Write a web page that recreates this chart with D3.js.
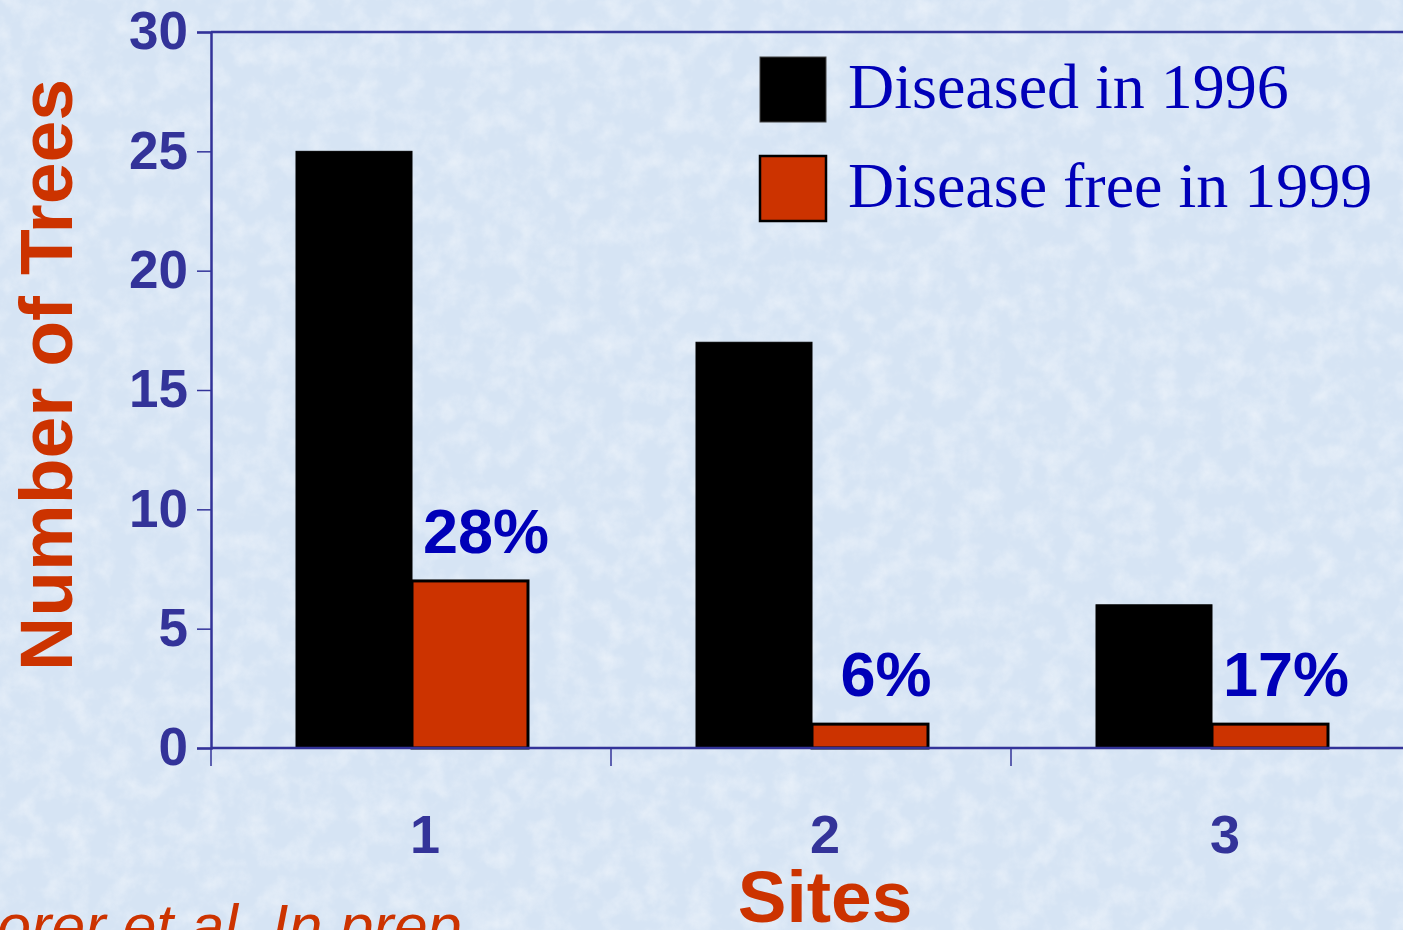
<!DOCTYPE html>
<html>
<head>
<meta charset="utf-8">
<script src="https://cdn.jsdelivr.net/npm/d3@7"></script>
<style>
  html, body { margin: 0; padding: 0; overflow: hidden; background: #dae7f5; }
  svg { display: block; }
</style>
</head>
<body>
<div id="chart"></div>
<script>
const sites = ["1", "2", "3"];
const seriesNames = ["Diseased in 1996", "Disease free in 1999"];
const diseased1996 = [25, 17, 6];
const diseaseFree1999 = [7, 1, 1];
const percentLabels = ["28%", "6%", "17%"];
const yTicks = [0, 5, 10, 15, 20, 25, 30];

const width = 1403;
const height = 930;
const margin = { top: 32, left: 211, bottom: 182 };

const axisColor = "#333399";
const redColor = "#cc3300";
const labelBlue = "#0000b8";

const svg = d3
  .select("#chart")
  .append("svg")
  .attr("width", width)
  .attr("height", height);

// textured paper background
const defs = svg.append("defs");
const filter = defs.append("filter").attr("id", "paper").attr("x", 0).attr("y", 0).attr("width", "100%").attr("height", "100%");
filter
  .append("feTurbulence")
  .attr("type", "fractalNoise")
  .attr("baseFrequency", 0.045)
  .attr("numOctaves", 4)
  .attr("seed", 7);
filter
  .append("feColorMatrix")
  .attr("type", "matrix")
  .attr("values", "0 0 0 0 1  0 0 0 0 1  0 0 0 0 1  0 0 0 1.4 -0.55");

svg.append("rect").attr("width", width).attr("height", height).attr("fill", "#d6e4f4");
svg.append("rect").attr("width", width).attr("height", height).attr("filter", "url(#paper)").attr("opacity", 0.55);

const y = d3.scaleLinear().domain([0, 30]).range([height - margin.bottom, margin.top]);
const x0 = d3.scaleBand().domain(sites).range([margin.left, margin.left + 3 * 400]);
const x1 = d3.scaleBand().domain(seriesNames).range([85, x0.bandwidth() - 83]);

const rows = sites.map((s, i) => ({
  site: s,
  values: [
    { key: seriesNames[0], value: diseased1996[i] },
    { key: seriesNames[1], value: diseaseFree1999[i] },
  ],
  pct: percentLabels[i],
}));

// plot frame top line
svg
  .append("line")
  .attr("x1", margin.left)
  .attr("x2", width + 10)
  .attr("y1", y(30))
  .attr("y2", y(30))
  .attr("stroke", axisColor)
  .attr("stroke-width", 2.5);

// y axis
const yAxis = svg
  .append("g")
  .attr("transform", `translate(${margin.left},0)`)
  .call(d3.axisLeft(y).tickValues(yTicks).tickSize(14).tickPadding(9));
yAxis.select(".domain").attr("stroke", axisColor).attr("stroke-width", 2.5);
yAxis.selectAll(".tick line").attr("stroke", axisColor).attr("stroke-width", 1.5);
yAxis
  .selectAll(".tick text")
  .attr("fill", axisColor)
  .style("font-family", "Liberation Sans, Arial, sans-serif")
  .style("font-weight", "bold")
  .style("font-size", "53px");

// bars
const groups = svg
  .selectAll(".site")
  .data(rows)
  .join("g")
  .attr("class", "site")
  .attr("transform", (d) => `translate(${x0(d.site)},0)`);

groups
  .selectAll("rect")
  .data((d) => d.values)
  .join("rect")
  .attr("x", (d) => x1(d.key))
  .attr("y", (d) => y(d.value))
  .attr("width", x1.bandwidth())
  .attr("height", (d) => y(0) - y(d.value))
  .attr("fill", (d, i) => (i === 0 ? "#000000" : redColor))
  .attr("stroke", "#000")
  .attr("stroke-width", (d, i) => (i === 0 ? 1 : 3));

groups
  .append("text")
  .attr("x", x1(seriesNames[1]) + x1.bandwidth() / 2 + 16)
  .attr("y", (d) => y(d.values[1].value) - 28)
  .attr("text-anchor", "middle")
  .attr("fill", labelBlue)
  .style("font-family", "Liberation Sans, Arial, sans-serif")
  .style("font-weight", "bold")
  .style("font-size", "63px")
  .text((d) => d.pct);

// x axis
const xAxis = svg
  .append("g")
  .attr("transform", `translate(0,${y(0)})`);
xAxis
  .append("line")
  .attr("x1", margin.left)
  .attr("x2", width + 10)
  .attr("stroke", axisColor)
  .attr("stroke-width", 2.5);
xAxis
  .selectAll(".xtick")
  .data(sites)
  .join("line")
  .attr("class", "xtick")
  .attr("x1", (d) => x0(d))
  .attr("x2", (d) => x0(d))
  .attr("y1", 0)
  .attr("y2", 18)
  .attr("stroke", axisColor)
  .attr("stroke-width", 1.5);
xAxis
  .selectAll(".xlabel")
  .data(sites)
  .join("text")
  .attr("class", "xlabel")
  .attr("x", (d) => x0(d) + x0.bandwidth() / 2 + 14)
  .attr("y", 105)
  .attr("text-anchor", "middle")
  .attr("fill", axisColor)
  .style("font-family", "Liberation Sans, Arial, sans-serif")
  .style("font-weight", "bold")
  .style("font-size", "54px")
  .text((d) => d);

// axis titles
svg
  .append("text")
  .attr("transform", `translate(72,375) rotate(-90)`)
  .attr("text-anchor", "middle")
  .attr("fill", redColor)
  .style("font-family", "Liberation Sans, Arial, sans-serif")
  .style("font-weight", "bold")
  .style("font-size", "75px")
  .text("Number of Trees");

svg
  .append("text")
  .attr("x", 825)
  .attr("y", 922)
  .attr("text-anchor", "middle")
  .attr("fill", redColor)
  .style("font-family", "Liberation Sans, Arial, sans-serif")
  .style("font-weight", "bold")
  .style("font-size", "73px")
  .text("Sites");

svg
  .append("text")
  .attr("x", -3)
  .attr("y", 947)
  .attr("fill", redColor)
  .style("font-family", "Liberation Sans, Arial, sans-serif")
  .style("font-style", "italic")
  .style("font-size", "61px")
  .text("orer et al. In prep.");

// legend
const legend = svg
  .append("g")
  .attr("transform", "translate(760,57)");
const legendItems = legend
  .selectAll("g")
  .data(seriesNames)
  .join("g")
  .attr("transform", (d, i) => `translate(0,${i * 99})`);
legendItems
  .append("rect")
  .attr("width", 66)
  .attr("height", 65)
  .attr("fill", (d, i) => (i === 0 ? "#000" : redColor))
  .attr("stroke", (d, i) => (i === 0 ? "#444" : "#000"))
  .attr("stroke-width", (d, i) => (i === 0 ? 1 : 2.5));
legendItems
  .append("text")
  .attr("x", 88)
  .attr("y", 51)
  .attr("fill", labelBlue)
  .style("font-family", "Liberation Serif, Times New Roman, serif")
  .style("font-size", "64px")
  .text((d) => d);
</script>
</body>
</html>
